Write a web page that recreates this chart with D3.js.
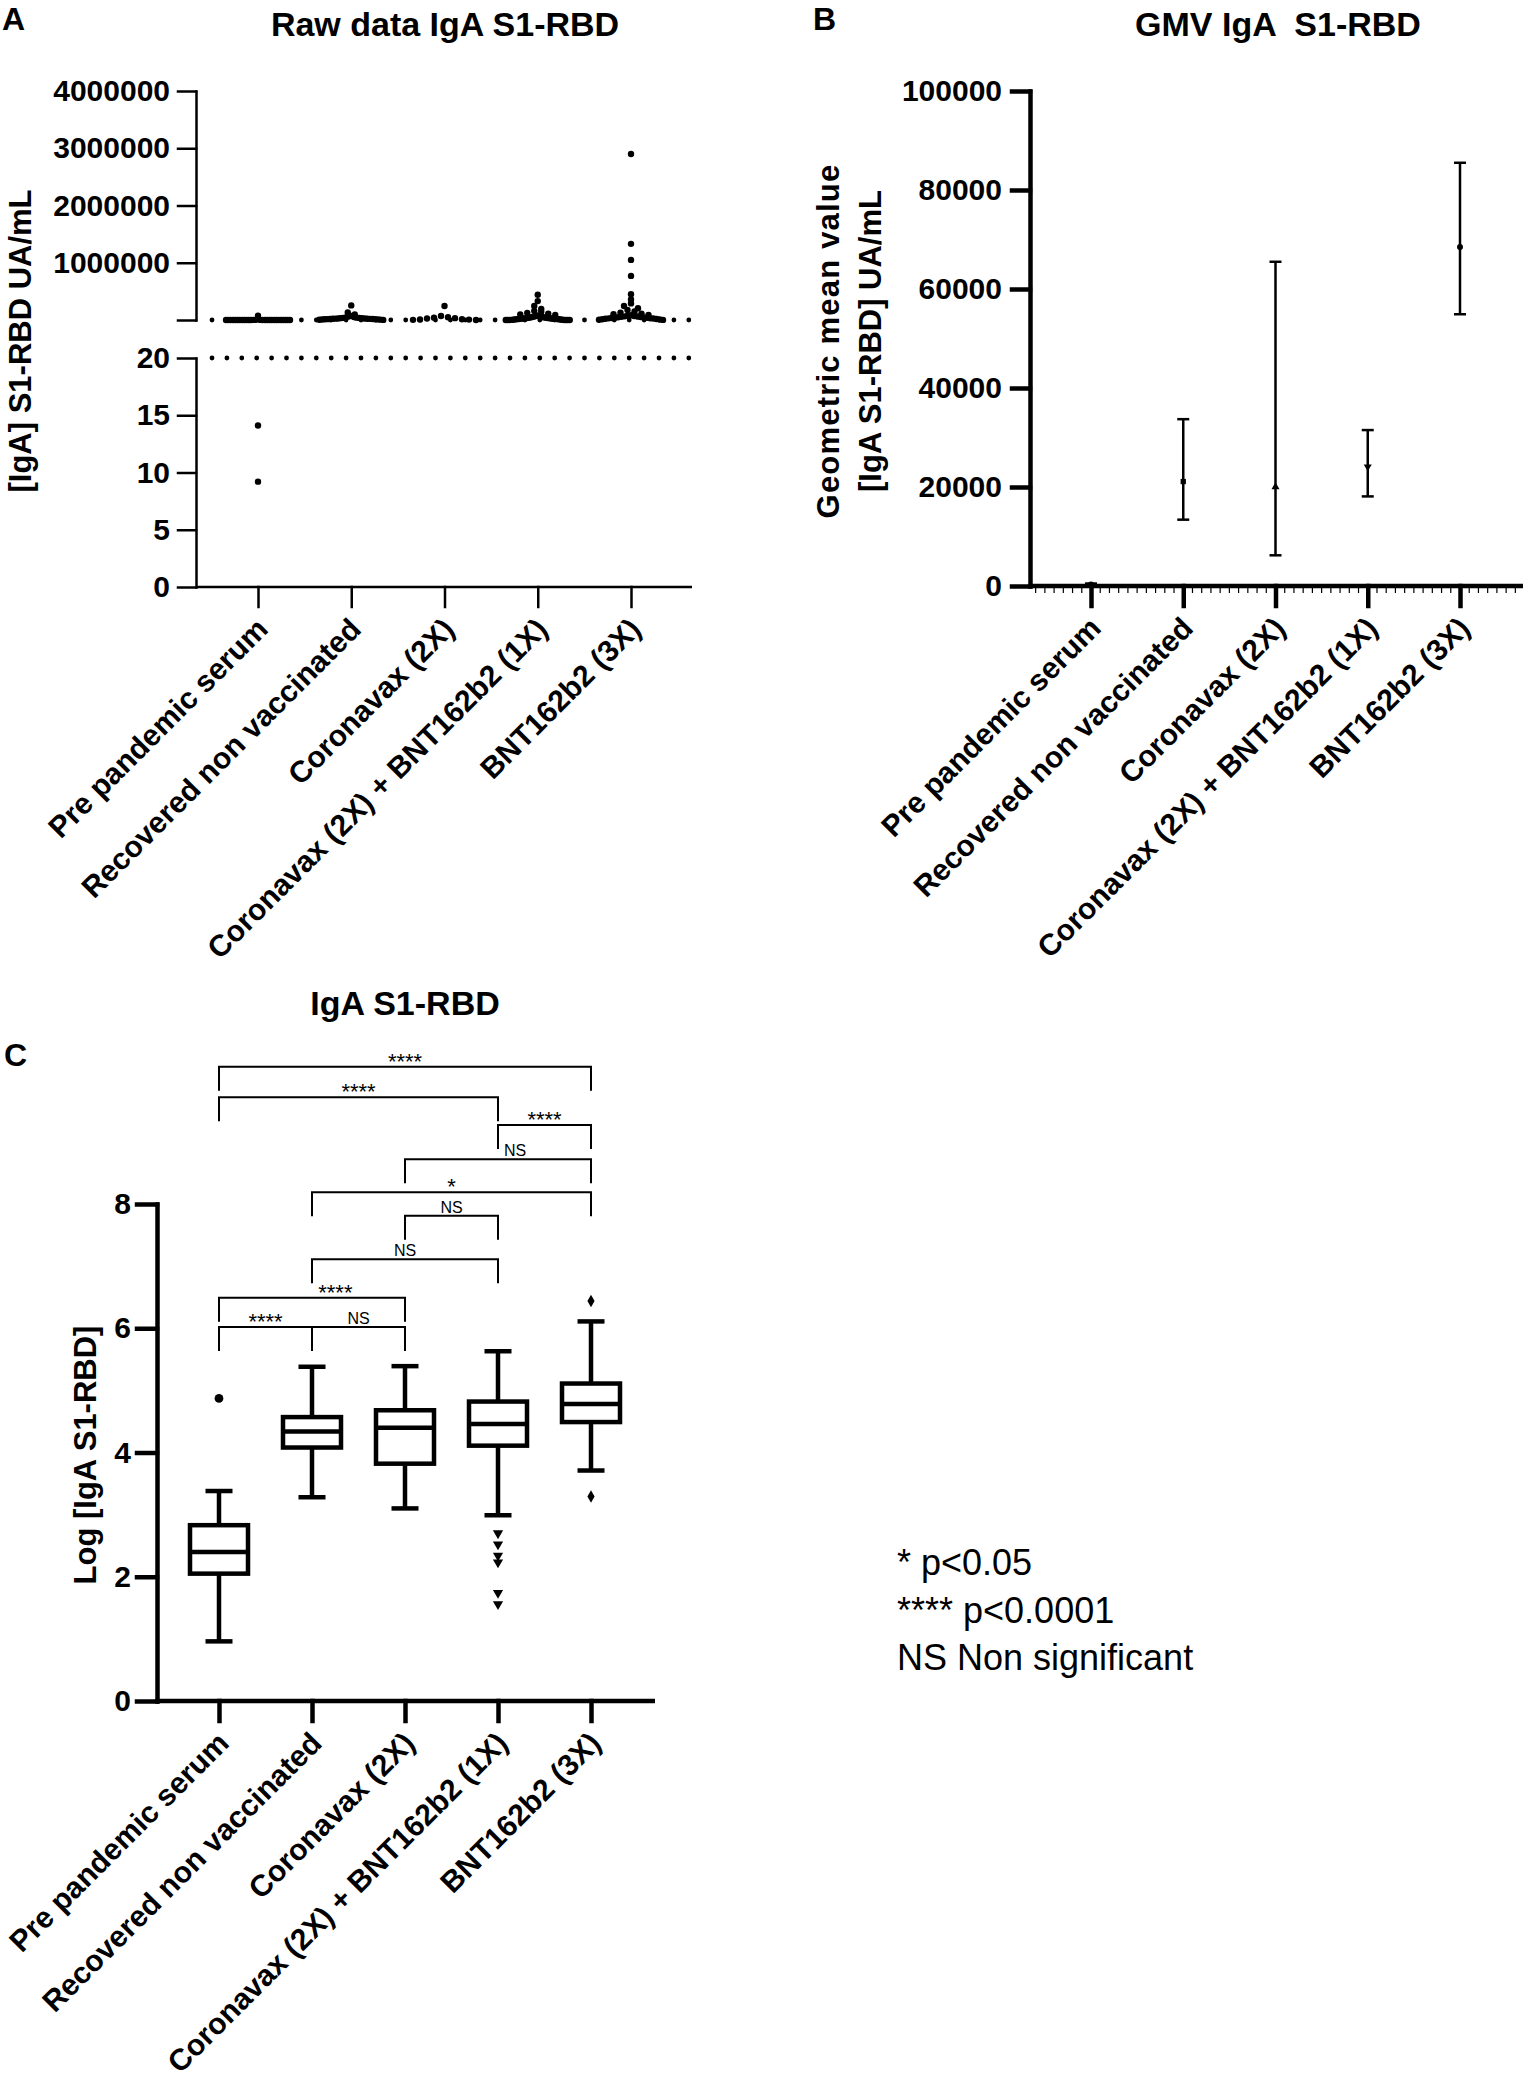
<!DOCTYPE html>
<html>
<head>
<meta charset="utf-8">
<script src="https://cdn.jsdelivr.net/npm/d3@7"></script>
<style>
  body { margin: 0; background: #fff; }
  svg { display: block; }
  text { font-family: "Liberation Sans", Arial, Helvetica, sans-serif; fill: #000; }
</style>
</head>
<body>
<svg id="fig" width="1523" height="2081"></svg>
<script>
const groups = [
  'Pre pandemic serum',
  'Recovered non vaccinated',
  'Coronavax (2X)',
  'Coronavax (2X) + BNT162b2 (1X)',
  'BNT162b2 (3X)'
];

// panel A : raw IgA S1-RBD, UA/mL
const rawPre = [9.2, 14.1, 24, 38, 52, 66, 80, 95, 112, 128, 145, 165, 185, 205, 230, 251, 275, 305, 340, 380,
  430, 490, 560, 676, 790, 930, 1100, 1400, 1900, 2400, 74000];
const rawRecovered = [1900, 3800, 6000, 8200, 10200, 12000, 13500, 15000, 16500, 18000, 19800, 21000, 22000, 23500,
  25000, 27000, 29500, 32000, 35000, 37000, 41000, 46000, 52000, 60000, 72000, 95000, 130000, 255000];
const rawCoronavax = [1260, 3000, 6600, 9500, 14000, 25000, 32000, 41000, 48000, 70000, 245000];
const rawCoronavaxBnt = [36, 55, 170, 220, 330, 500, 980, 2100, 3900, 6000, 8100, 10300, 12900, 14500, 16200, 18000,
  19900, 21500, 23000, 24800, 26500, 28800, 30500, 32500, 34500, 37000, 39500, 42000, 45000, 48500, 52000, 56000,
  61000, 66000, 72000, 79000, 88000, 98000, 110000, 125000, 145000, 160000, 195000, 245000, 330000, 440000];
const rawBnt3 = [1950, 5100, 9000, 13500, 18000, 22000, 26000, 29000, 31000, 34000, 37500, 41000, 45000, 49000, 53000,
  57000, 60000, 64000, 69000, 75000, 82000, 90000, 100000, 112000, 129000, 150000, 175000, 205000, 245000, 290000,
  360000, 450000, 770000, 1050000, 1330000, 2900000];
const rawValues = [rawPre, rawRecovered, rawCoronavax, rawCoronavaxBnt, rawBnt3];
const cutoff = 20;
const upperTicks = [0, 1000000, 2000000, 3000000, 4000000];
const lowerTicks = [0, 5, 10, 15, 20];

// panel B : geometric mean with CI
const gmvMean = [300, 21100, 20000, 24100, 68500];
const gmvLow = [150, 13400, 6200, 18100, 54900];
const gmvHigh = [500, 33700, 65500, 31500, 85500];
const gmvTicks = [0, 20000, 40000, 60000, 80000, 100000];

// panel C : log IgA box plots
const boxMin = [0.96, 3.28, 3.10, 2.99, 3.71];
const boxQ1 = [2.05, 4.08, 3.82, 4.11, 4.49];
const boxMedian = [2.40, 4.34, 4.40, 4.46, 4.78];
const boxQ3 = [2.83, 4.57, 4.68, 4.82, 5.11];
const boxMax = [3.38, 5.38, 5.39, 5.63, 6.11];
const boxOutliers = [[4.87], [], [], [2.70, 2.52, 2.34, 2.23, 1.74, 1.56], [6.44, 3.29]];
const logTicks = [0, 2, 4, 6, 8];

const sigPairs = [[0, 4], [0, 3], [3, 4], [2, 4], [1, 4], [2, 3], [1, 3], [0, 2], [0, 1], [1, 2]];
const sigLabels = ['****', '****', '****', 'NS', '*', 'NS', 'NS', '****', '****', 'NS'];
const sigLevels = [10.21, 9.72, 9.27, 8.72, 8.19, 7.81, 7.11, 6.49, 6.02, 6.02];

const legendLines = ['* p<0.05', '**** p<0.0001', 'NS Non significant'];

const svg = d3.select('#fig');

function styleAxis(g, width) {
  g.selectAll('path, line').attr('stroke', '#000').attr('stroke-width', width).attr('stroke-linecap', 'square');
  g.selectAll('text').attr('font-size', 30).attr('font-weight', 'bold').attr('fill', '#000');
}

function drawXAxis(x, y0, axisX, endX, width) {
  svg.append('line')
    .attr('x1', axisX).attr('x2', endX).attr('y1', y0).attr('y2', y0)
    .attr('stroke', '#000').attr('stroke-width', width);

  const g = svg.append('g')
    .attr('transform', `translate(0,${y0})`)
    .call(d3.axisBottom(x).tickSize(20).tickSizeOuter(0));
  g.select('.domain').remove();
  styleAxis(g, width);
  g.selectAll('text')
    .attr('x', 0).attr('y', 0).attr('dy', 0)
    .attr('text-anchor', 'end')
    .attr('transform', 'translate(11,44) rotate(-45)');
  return g;
}

function label(x, y, txt, size, opts = {}) {
  const t = svg.append('text')
    .attr('x', x).attr('y', y)
    .attr('font-size', size)
    .attr('font-weight', opts.weight || 'bold')
    .attr('text-anchor', opts.anchor || 'start')
    .style('white-space', 'pre')
    .text(txt);
  if (opts.rotate) {
    t.attr('x', 0).attr('y', 0).attr('dy', '0.35em')
      .attr('transform', `translate(${x},${y}) rotate(-90)`);
  }
  if (opts.spacing) t.attr('letter-spacing', opts.spacing);
  return t;
}

// ---------------- panel A ----------------
const axA = 196;
const xA = d3.scalePoint().domain(groups).range([258, 631]);
const yUp = d3.scaleLinear().domain([0, 4000000]).range([320, 91]);
const yLow = d3.scaleLinear().domain([0, 20]).range([587, 358]);

label(2, 30, 'A', 32);
label(445, 36, 'Raw data IgA S1-RBD', 34, { anchor: 'middle' });
label(20, 341, '[IgA] S1-RBD UA/mL', 31, { anchor: 'middle', rotate: true });

const gUp = svg.append('g').attr('transform', `translate(${axA},0)`)
  .call(d3.axisLeft(yUp).tickValues(upperTicks).tickSize(18).tickPadding(8).tickSizeOuter(0)
    .tickFormat(d => d === 0 ? '' : d3.format('d')(d)));
styleAxis(gUp, 2.5);
const gLow = svg.append('g').attr('transform', `translate(${axA},0)`)
  .call(d3.axisLeft(yLow).tickValues(lowerTicks).tickSize(18).tickPadding(8).tickSizeOuter(0));
styleAxis(gLow, 2.5);
drawXAxis(xA, 587, axA, 692, 2.5);

// dotted cutoff line in both segments
const dotXs = d3.range(212, 692, 14.9);
[yUp(cutoff), yLow(cutoff)].forEach(yy => {
  svg.append('g').selectAll('circle').data(dotXs).join('circle')
    .attr('cx', d => d).attr('cy', yy).attr('r', 2.4).attr('fill', '#000');
});

// scatter: points grouped into rows and spread sideways
function swarm(values, cx) {
  const pts = values.filter(v => v >= cutoff).map(v => ({ v, y: yUp(v) }))
    .sort((a, b) => b.y - a.y);
  const rows = [];
  pts.forEach(p => {
    const row = rows[rows.length - 1];
    if (row && row[0].y - p.y < 5) row.push(p); else rows.push([p]);
  });
  rows.forEach(row => {
    const n = row.length;
    const step = n > 1 ? Math.min(7, 64 / (n - 1)) : 0;
    const offsets = d3.range(n).map(i => (i - (n - 1) / 2) * step)
      .sort((a, b) => Math.abs(a) - Math.abs(b));
    row.slice().sort((a, b) => b.v - a.v).forEach((p, i) => { p.x = cx + offsets[i]; });
  });
  return pts;
}

rawValues.forEach((vals, i) => {
  const cx = xA(groups[i]);
  svg.append('g').selectAll('circle').data(swarm(vals, cx)).join('circle')
    .attr('cx', d => d.x).attr('cy', d => d.y).attr('r', 3.2).attr('fill', '#000');
  svg.append('g').selectAll('circle').data(vals.filter(v => v < cutoff)).join('circle')
    .attr('cx', cx).attr('cy', d => yLow(d)).attr('r', 3.2).attr('fill', '#000');
});

// ---------------- panel B ----------------
const axB = 1030;
const xB = d3.scalePoint().domain(groups).range([1091, 1460]);
const yB = d3.scaleLinear().domain([0, 100000]).range([586, 91]);

label(813, 30, 'B', 32);
label(1278, 36, 'GMV IgA  S1-RBD', 34, { anchor: 'middle' });
label(828, 341, 'Geometric mean value', 31, { anchor: 'middle', rotate: true, spacing: 1.2 });
label(870, 341, '[IgA S1-RBD] UA/mL', 31, { anchor: 'middle', rotate: true });

const gB = svg.append('g').attr('transform', `translate(${axB},0)`)
  .call(d3.axisLeft(yB).tickValues(gmvTicks).tickSize(18).tickPadding(10).tickSizeOuter(0)
    .tickFormat(d3.format('d')));
styleAxis(gB, 4.5);
drawXAxis(xB, 586, axB - 2, 1523, 4.5);

const minorStep = xB.step() / 10;
const minorXs = d3.range(-6, 60).map(k => xB(groups[0]) + k * minorStep).filter(v => v > axB + 3 && v < 1523);
svg.append('g').selectAll('line').data(minorXs).join('line')
  .attr('x1', d => d).attr('x2', d => d).attr('y1', 586).attr('y2', 593)
  .attr('stroke', '#000').attr('stroke-width', 1.2);

const markers = [d3.symbolCircle, d3.symbolSquare, d3.symbolTriangle, d3.symbolTriangle, d3.symbolCircle];
groups.forEach((gname, i) => {
  const cx = xB(gname);
  const g = svg.append('g');
  g.append('line').attr('x1', cx).attr('x2', cx).attr('y1', yB(gmvLow[i])).attr('y2', yB(gmvHigh[i]))
    .attr('stroke', '#000').attr('stroke-width', 2.5);
  [gmvLow[i], gmvHigh[i]].forEach(v => {
    g.append('line').attr('x1', cx - 6).attr('x2', cx + 6).attr('y1', yB(v)).attr('y2', yB(v))
      .attr('stroke', '#000').attr('stroke-width', 2.5);
  });
  g.append('path').attr('d', d3.symbol(markers[i], 28)())
    .attr('transform', `translate(${cx},${yB(gmvMean[i])}) rotate(${i === 3 ? 180 : 0})`)
    .attr('fill', '#000');
});

// ---------------- panel C ----------------
const axC = 157;
const xC = d3.scalePoint().domain(groups).range([219, 591]);
const yC = d3.scaleLinear().domain([0, 8]).range([1701, 1204]);

label(4, 1066, 'C', 32);
label(405, 1015, 'IgA S1-RBD', 34, { anchor: 'middle' });
label(85, 1455, 'Log [IgA S1-RBD]', 31, { anchor: 'middle', rotate: true });

const gC = svg.append('g').attr('transform', `translate(${axC},0)`)
  .call(d3.axisLeft(yC).tickValues(logTicks).tickSize(20).tickPadding(6).tickSizeOuter(0));
styleAxis(gC, 4.5);
drawXAxis(xC, 1701, axC - 2, 655, 4.5);

const boxW = 58, capW = 27, boxSW = 4.5;
groups.forEach((gname, i) => {
  const cx = xC(gname);
  const g = svg.append('g').attr('stroke', '#000').attr('stroke-width', boxSW).attr('fill', 'none');
  g.append('line').attr('x1', cx).attr('x2', cx).attr('y1', yC(boxMin[i])).attr('y2', yC(boxQ1[i]));
  g.append('line').attr('x1', cx).attr('x2', cx).attr('y1', yC(boxQ3[i])).attr('y2', yC(boxMax[i]));
  [boxMin[i], boxMax[i]].forEach(v => {
    g.append('line').attr('x1', cx - capW / 2).attr('x2', cx + capW / 2).attr('y1', yC(v)).attr('y2', yC(v));
  });
  g.append('rect').attr('x', cx - boxW / 2).attr('width', boxW)
    .attr('y', yC(boxQ3[i])).attr('height', yC(boxQ1[i]) - yC(boxQ3[i]))
    .attr('fill', '#fff');
  g.append('line').attr('x1', cx - boxW / 2).attr('x2', cx + boxW / 2)
    .attr('y1', yC(boxMedian[i])).attr('y2', yC(boxMedian[i]));

  const shape = [d3.symbolCircle, null, null, d3.symbolTriangle, d3.symbolDiamond][i];
  svg.append('g').selectAll('path').data(boxOutliers[i]).join('path')
    .attr('d', d3.symbol(shape || d3.symbolCircle, i === 0 ? 60 : 45)())
    .attr('transform', d => `translate(${cx},${yC(d)}) rotate(${i === 3 ? 180 : 0})`)
    .attr('fill', '#000');
});

// significance brackets
const legH = 24;
const legs = [];
sigPairs.forEach(([a, b], k) => {
  const yy = yC(sigLevels[k]);
  legs.push({ x: xC(groups[a]), y0: yy, y1: yy + legH });
  legs.push({ x: xC(groups[b]), y0: yy, y1: yy + legH });
});

sigPairs.forEach(([a, b], k) => {
  const x1 = xC(groups[a]), x2 = xC(groups[b]);
  const yy = yC(sigLevels[k]);
  svg.append('path')
    .attr('d', `M${x1},${yy + legH}V${yy}H${x2}V${yy + legH}`)
    .attr('fill', 'none').attr('stroke', '#000').attr('stroke-width', 2);

  const isNs = sigLabels[k] === 'NS';
  const size = isNs ? 16 : 22;
  const baseY = isNs ? yy - 3 : yy + 2;
  const t = svg.append('text')
    .attr('x', (x1 + x2) / 2).attr('y', baseY)
    .attr('text-anchor', 'middle')
    .attr('font-size', size)
    .text(sigLabels[k]);

  // keep the label clear of legs of brackets drawn just above it
  const bb = t.node().getBBox();
  const hit = legs.find(l => l.x > bb.x - 2 && l.x < bb.x + bb.width + 2 && l.y1 > bb.y && l.y0 < bb.y + bb.height
    && l.x !== x1 && l.x !== x2);
  if (hit) t.attr('x', hit.x + 6 + bb.width / 2);
});

// legend
legendLines.forEach((t, i) => {
  label(897, 1575 + i * 47.5, t, 36, { weight: 'normal' });
});
</script>
</body>
</html>
